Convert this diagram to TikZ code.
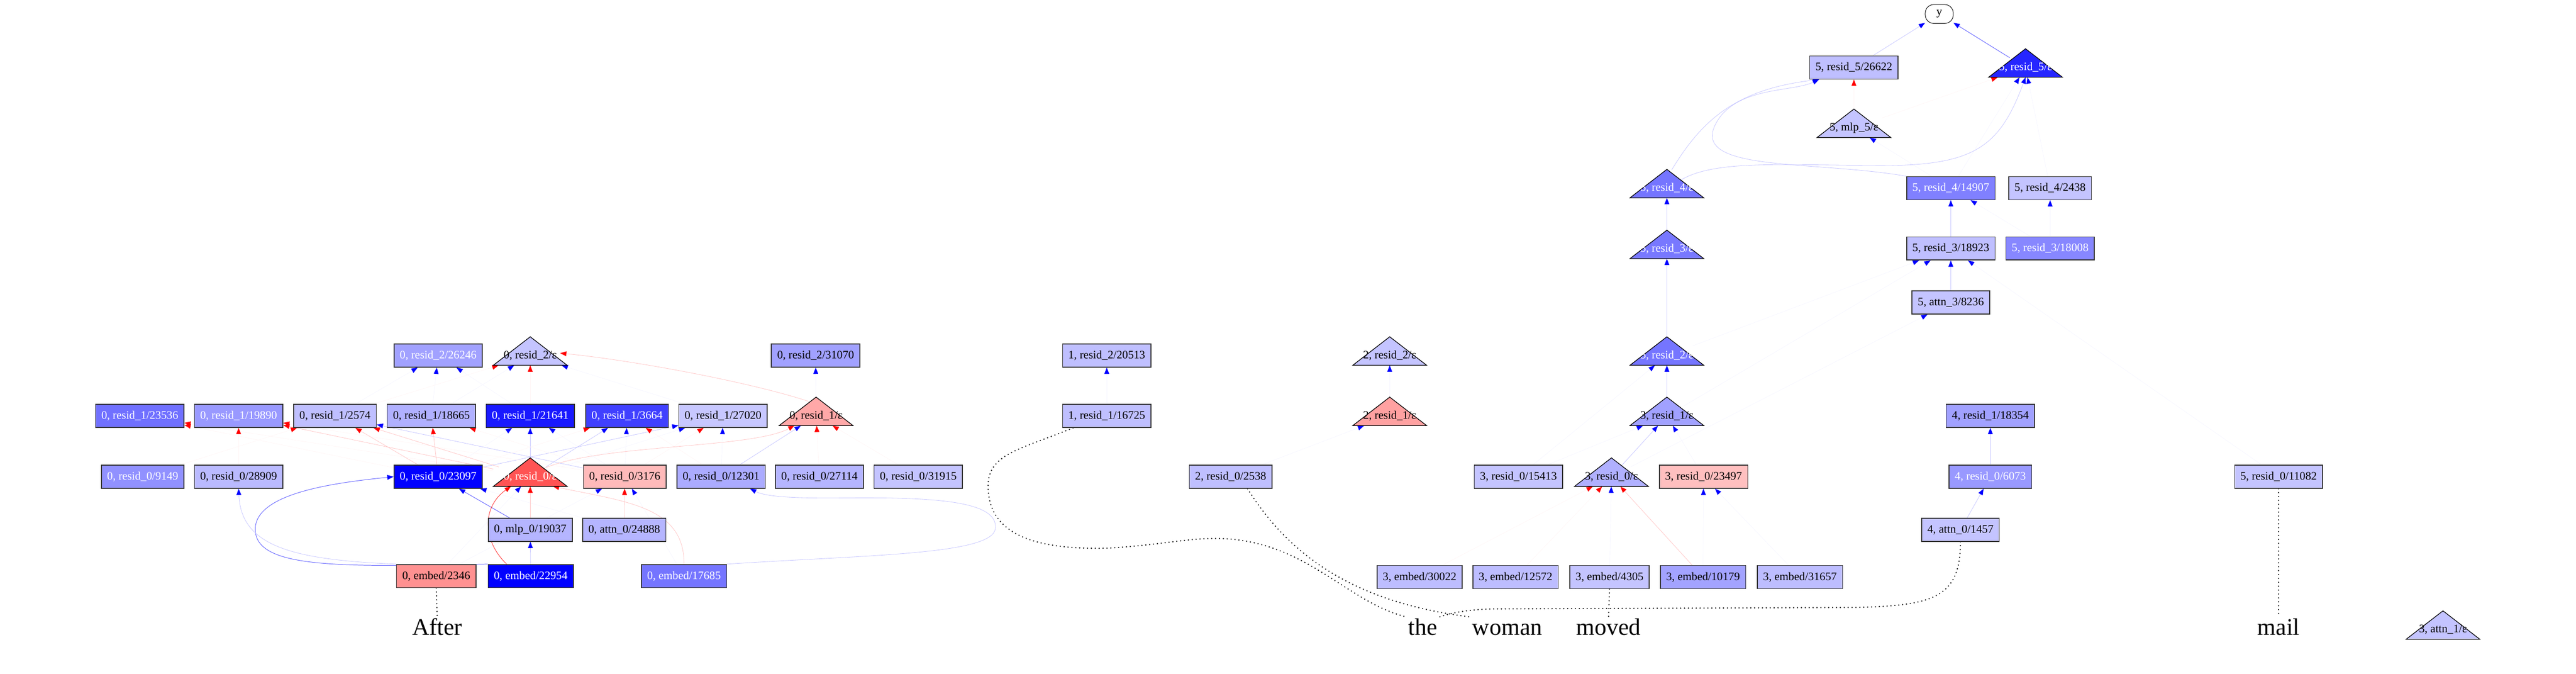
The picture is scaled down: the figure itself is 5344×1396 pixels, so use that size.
\documentclass[tikz,border=0pt]{standalone}
\usepackage{fontspec}
\setmainfont{Liberation Serif}
\usetikzlibrary{arrows.meta,backgrounds}
\def\triw{76.5}

\begin{document}
\begin{tikzpicture}[x=0.02cm, y=-0.02cm, font=\fontsize{13.5}{15}\selectfont]
    \tikzstyle{box}=[rectangle, draw=black!80, line width=1pt, minimum height=0.96cm, inner xsep=0.24cm]
    \tikzstyle{tri}=[draw=black, line width=0.8pt]
    \tikzstyle{tri label}=[rectangle, minimum width=3.06cm, minimum height=0.8cm, inner sep=0pt]
    \tikzstyle{word}=[font=\fontsize{28}{32}\selectfont, inner sep=2pt, text height=19pt, text depth=5pt, anchor=base]
    \tikzstyle{blue edge}=[draw=blue!4, line width=0.4pt, -{Triangle[length=0.26cm,width=0.2cm,color=blue]}]
    \tikzstyle{blue line}=[blue edge, draw=blue!22, line width=0.5pt]
    \tikzstyle{blue strong}=[blue edge, draw=blue!60, line width=0.6pt]
    \tikzstyle{red edge}=[draw=red!4, line width=0.4pt, -{Triangle[length=0.26cm,width=0.2cm,color=red]}]
    \tikzstyle{red line}=[red edge, draw=red!22, line width=0.5pt]
    \tikzstyle{red strong}=[red edge, draw=red!75, line width=0.6pt]
    \tikzstyle{token edge}=[draw=black, line width=1.6pt, line cap=round, dash pattern=on 0pt off 4.6pt]

    \useasboundingbox (0,0) rectangle (5344,1396);

    % Draw the output node
    \node[draw, rounded corners=0.35cm, minimum width=1.16cm, minimum height=0.78cm, inner sep=0pt, line width=0.6pt] (Y) at (4023,29) {y};

    % Draw the box nodes
    \foreach \name/\x/\y/\c/\t/\l in {
        t5r5-26622/3846/140/blue!25/black/{5, resid\_5/26622},
        t5r4-14907/4047/390/blue!50/white/{5, resid\_4/14907},
        t5r4-2438/4253/390/blue!23/black/{5, resid\_4/2438},
        t5r3-18923/4047/515/blue!25/black/{5, resid\_3/18923},
        t5r3-18008/4253/515/blue!47/white/{5, resid\_3/18008},
        t5a3-8236/4047/627/blue!23/black/{5, attn\_3/8236},
        t0r2-26246/909/737/blue!37/white/{0, resid\_2/26246},
        t0r2-31070/1692/737/blue!37/black/{0, resid\_2/31070},
        t1r2-20513/2296/737/blue!25/black/{1, resid\_2/20513},
        t0r1-23536/290/862/blue!56/white/{0, resid\_1/23536},
        t0r1-19890/495/862/blue!40/white/{0, resid\_1/19890},
        t0r1-2574/695/862/blue!25/black/{0, resid\_1/2574},
        t0r1-18665/895/862/blue!31/black/{0, resid\_1/18665},
        t0r1-21641/1100/862/blue!90/white/{0, resid\_1/21641},
        t0r1-3664/1301/862/blue!75/white/{0, resid\_1/3664},
        t0r1-27020/1500/862/blue!22/black/{0, resid\_1/27020},
        t1r1-16725/2296/862/blue!25/black/{1, resid\_1/16725},
        t4r1-18354/4129/862/blue!37/black/{4, resid\_1/18354},
        t0r0-9149/296/988/blue!43/white/{0, resid\_0/9149},
        t0r0-28909/495/988/blue!27/black/{0, resid\_0/28909},
        t0r0-23097/909/988/blue/white/{0, resid\_0/23097},
        t0r0-3176/1296/988/red!27/black/{0, resid\_0/3176},
        t0r0-12301/1496/988/blue!33/black/{0, resid\_0/12301},
        t0r0-27114/1700/988/blue!29/black/{0, resid\_0/27114},
        t0r0-31915/1905/988/blue!23/black/{0, resid\_0/31915},
        t2r0-2538/2553/988/blue!25/black/{2, resid\_0/2538},
        t3r0-15413/3150/988/blue!23/black/{3, resid\_0/15413},
        t3r0-23497/3534/988/red!25/black/{3, resid\_0/23497},
        t4r0-6073/4129/988/blue!40/white/{4, resid\_0/6073},
        t5r0-11082/4727/988/blue!23/black/{5, resid\_0/11082},
        t0m0-19037/1100/1098/blue!29/black/{0, mlp\_0/19037},
        t0a0-24888/1295/1098/blue!29/black/{0, attn\_0/24888},
        t4a0-1457/4067/1098/blue!23/black/{4, attn\_0/1457},
        t0e-2346/905/1194/red!43/black/{0, embed/2346},
        t0e-22954/1101/1194/blue/white/{0, embed/22954},
        t0e-17685/1419/1194/blue!54/white/{0, embed/17685},
        t3e-30022/2945/1196/blue!26/black/{3, embed/30022},
        t3e-12572/3144/1196/blue!26/black/{3, embed/12572},
        t3e-4305/3339/1196/blue!23/black/{3, embed/4305},
        t3e-10179/3533/1196/blue!36/black/{3, embed/10179},
        t3e-31657/3734/1196/blue!26/black/{3, embed/31657}}
        \node[box, fill=\c, text=\t] (\name) at (\x,\y) {\l};

    % Draw the triangle nodes
    \foreach \name/\x/\y/\c/\t/\l in {
        t5r5-e/4202/140/blue!85/white/{5, resid\_5/ε},
        t5m5-e/3846/265/blue!23/black/{5, mlp\_5/ε},
        t5r4-e/3458/390/blue!54/white/{5, resid\_4/ε},
        t5r3-e/3458/516/blue!53/white/{5, resid\_3/ε},
        t0r2-e/1100/737/blue!23/black/{0, resid\_2/ε},
        t2r2-e/2883/737/blue!23/black/{2, resid\_2/ε},
        t5r2-e/3458/737/blue!54/white/{5, resid\_2/ε},
        t0r1-e/1693/862/red!34/black/{0, resid\_1/ε},
        t2r1-e/2883/862/red!37/black/{2, resid\_1/ε},
        t3r1-e/3458/862/blue!37/black/{3, resid\_1/ε},
        t0r0-e/1100/988/red!67/white/{0, resid\_0/ε},
        t3r0-e/3343/988/blue!31/black/{3, resid\_0/ε},
        t3a1-e/5068/1305/blue!23/black/{3, attn\_1/ε}} {
        \filldraw[tri, fill=\c] (\x-\triw,\y+20) -- (\x,\y-39) -- (\x+\triw,\y+20) -- cycle;
        \node[tri label, text=\t] (\name) at (\x,\y) {\l};
    }

    % Draw the token words
    \foreach \name/\x in {After/907, the/2952, woman/3127, moved/3337, mail/4727}
        \node[word] (w-\name) at (\x,1316) {\name};

    \begin{scope}[on background layer]
    % Connect the nodes, faint lines first
    \foreach \source/\dest in {t5r4-14907/t5r5-e, t5r4-2438/t5r5-e, t5r4-14907/t5m5-e,
        t5r3-18008/t5r4-14907, t5r3-18008/t5r4-2438, t5r2-e/t5r3-18923, t3r1-e/t5r3-18923,
        t5r0-11082/t5r3-18923, t3r0-e/t5a3-8236, t3r0-15413/t5r2-e, t3r0-15413/t3r1-e,
        t3r0-23497/t3r1-e, t3e-4305/t3r0-e, t3e-10179/t3r0-23497, t3e-31657/t3r0-23497,
        t2r1-e/t2r2-e, t2r0-2538/t2r1-e, t1r1-16725/t1r2-20513, t0r1-e/t0r2-31070,
        t0r1-2574/t0r2-26246, t0r1-18665/t0r2-26246, t0r1-21641/t0r2-26246,
        t0r1-18665/t0r2-e, t0r1-27020/t0r2-e, t0r0-3176/t0r1-21641, t0r0-23097/t0r1-21641,
        t0r0-3176/t0r1-3664, t0r0-e/t0r1-27020, t0r0-12301/t0r1-27020, t0e-2346/t0r0-e,
        t0e-2346/t0r0-3176, t0e-17685/t0r0-3176, t0a0-24888/t0r0-23097}
        \path (\source) edge[blue edge] (\dest);
    \foreach \source/\dest in {t5r5-26622/Y, t5r3-e/t5r4-e, t5r2-e/t5r3-e, t3r1-e/t5r2-e,
        t3r0-e/t3r1-e, t5r3-18923/t5r4-14907, t5a3-8236/t5r3-18923, t4r0-6073/t4r1-18354,
        t4a0-1457/t4r0-6073, t0r0-e/t0r1-3664, t0r0-12301/t0r1-e, t0r0-e/t0r1-21641,
        t0e-22954/t0m0-19037, t0r0-3176/t0r1-2574, t0r0-23097/t0r1-27020}
        \path (\source) edge[blue line] (\dest);
    \foreach \source/\dest in {t5r5-e/Y, t0m0-19037/t0r0-23097}
        \path (\source) edge[blue strong] (\dest);
    \foreach \source/\dest in {t5m5-e/t5r5-26622, t5m5-e/t5r5-e, t3e-12572/t3r0-e,
        t3e-30022/t3r0-e, t0r1-2574/t0r2-e, t0r1-21641/t0r2-e, t0r0-23097/t0r1-23536,
        t0r0-e/t0r1-23536, t0r0-28909/t0r1-19890, t0r0-3176/t0r1-19890, t0r0-9149/t0r1-2574,
        t0r0-3176/t0r1-18665, t0r0-23097/t0r1-3664, t0r0-12301/t0r1-3664,
        t0r0-3176/t0r1-27020, t0r0-27114/t0r1-e, t0r0-31915/t0r1-e}
        \path (\source) edge[red edge] (\dest);
    \foreach \source/\dest in {t3e-10179/t3r0-e, t0m0-19037/t0r0-e, t0a0-24888/t0r0-3176,
        t0r0-23097/t0r1-18665, t0r0-23097/t0r1-2574, t0r0-e/t0r1-19890, t0r0-e/t0r1-2574}
        \path (\source) edge[red line] (\dest);

    % The curved connections
    \draw[blue line] ([shift={(10,-38)}]t5r4-e.center) .. controls (3530,250) and (3600,185) .. ([xshift=0.4cm]t5r5-26622.south west);
    \draw[blue line] (t5r4-14907.north west) .. controls (3750,330) and (3480,360) .. (3570,240) .. controls (3620,180) and (3720,190) .. ([xshift=0.4cm]t5r5-26622.south west);
    \draw[blue line] ([shift={(29,-17)}]t5r4-e.center) .. controls (3560,330) and (3700,343) .. (3924,343) .. controls (4100,340) and (4150,300) .. (t5r5-e.south);
    \draw[blue strong] (t0e-22954.north west) .. controls (700,1175) and (520,1180) .. (530,1090) .. controls (540,1020) and (700,1000) .. (t0r0-23097.west);
    \draw[blue line] (t0e-2346.north west) .. controls (600,1160) and (500,1130) .. (t0r0-28909.south);
    \draw[blue line] (t0e-17685.north east) .. controls (1800,1150) and (2060,1150) .. (2065,1095) .. controls (2070,1040) and (1950,1030) .. (1750,1032) .. controls (1650,1033) and (1590,1030) .. ([xshift=1.2cm]t0r0-12301.south);
    \draw[red strong] ([xshift=-1cm]t0e-22954.north) .. controls (1000,1120) and (1000,1050) .. ([shift={(-40,20)}]t0r0-e.center);
    \draw[red line] (t0e-17685.north) .. controls (1420,1050) and (1300,1040) .. ([shift={(47,20)}]t0r0-e.center);
    \draw[red line] ([shift={(30,-18)}]t0r0-e.center) .. controls (1250,920) and (1560,930) .. ([shift={(-45,20)}]t0r1-e.center);
    \draw[red line] ([shift={(-15,-30)}]t0r1-e.center) .. controls (1550,790) and (1300,745) .. ([shift={(62,-5)}]t0r2-e.center);

    % Connect the words to their tokens
    \draw[token edge] (t0e-2346.south) -- (w-After.north);
    \draw[token edge] (t3e-4305.south) -- (w-moved.north);
    \draw[token edge] (t5r0-11082.south) -- (w-mail.north);
    \draw[token edge] ([xshift=-1.4cm]t1r1-16725.south) .. controls (2120,930) and (2055,940) .. (2050,1000) .. controls (2045,1110) and (2150,1140) .. (2300,1136) .. controls (2430,1128) and (2480,1110) .. (2560,1118) .. controls (2720,1135) and (2800,1250) .. (w-the.north west);
    \draw[token edge] ([xshift=0.7cm]t2r0-2538.south) .. controls (2680,1160) and (2820,1250) .. (w-woman.north west);
    \draw[token edge] (t4a0-1457.south) .. controls (4067,1240) and (4010,1255) .. (3850,1259) -- (3100,1262) .. controls (3040,1263) and (3005,1272) .. (w-the.north east);
    \end{scope}
\end{tikzpicture}
\end{document}
